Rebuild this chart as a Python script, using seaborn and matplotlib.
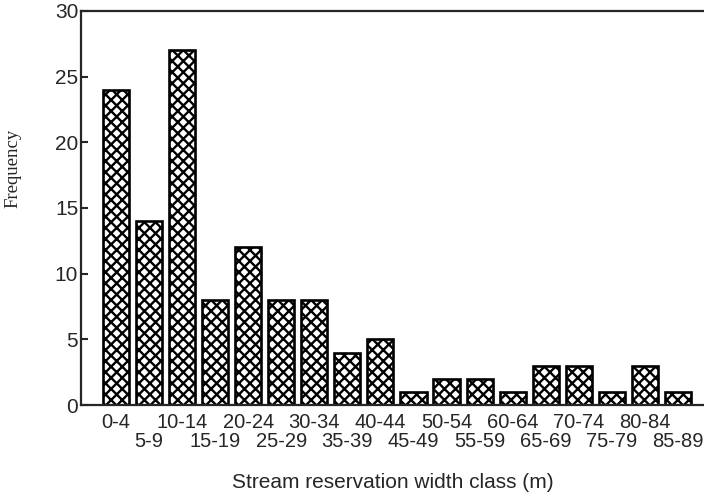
# histogram of stream reservation widths

import pandas as pd
import seaborn as sns
import matplotlib.pyplot as plt

classes = ['0-4', '5-9', '10-14', '15-19', '20-24', '25-29', '30-34', '35-39',
           '40-44', '45-49', '50-54', '55-59', '60-64', '65-69', '70-74',
           '75-79', '80-84', '85-89']
frequency = [24, 14, 27, 8, 12, 8, 8, 4, 5, 1, 2, 2, 1, 3, 3, 1, 3, 1]

df = pd.DataFrame({'cls': classes, 'freq': frequency})

sns.set_style('ticks')
plt.rcParams['font.family'] = ['Liberation Sans', 'DejaVu Sans']
plt.rcParams['hatch.linewidth'] = 1.7

fig = plt.figure(figsize=(7.04, 4.97), dpi=100)
ax = fig.add_axes([0.115, 0.185, 0.885, 0.793])

sns.barplot(data=df, x='cls', y='freq', color='white', edgecolor='black',
            linewidth=1.9, width=0.79, saturation=1, ax=ax)
for p in ax.patches:
    p.set_hatch('xxx')

# labels alternate between two rows: even classes on major ticks, odd on minor
pos = list(range(len(classes)))
ax.set_xticks(pos[0::2])
ax.set_xticklabels(classes[0::2], fontsize=14.5)
ax.set_xticks(pos[1::2], minor=True)
ax.set_xticklabels(classes[1::2], minor=True, fontsize=14.5)
ax.tick_params(axis='x', which='major', length=0, pad=5.5)
ax.tick_params(axis='x', which='minor', length=0, pad=19.5)
ax.set_xlim(-1.06, 17.79)

ax.set_ylim(0, 30)
ax.set_yticks([0, 5, 10, 15, 20, 25, 30])
ax.tick_params(axis='y', direction='in', length=5, width=1.5, pad=2, labelsize=15)

for s in ['left', 'bottom', 'top']:
    ax.spines[s].set_linewidth(1.6)
ax.spines['right'].set_visible(False)

ax.set_xlabel('Stream reservation width class (m)', fontsize=15, labelpad=16)
ax.set_ylabel('Frequency', fontsize=13.5, family=['Liberation Serif', 'DejaVu Serif'])
ax.yaxis.set_label_coords(-0.095, 0.6)

fig.savefig('out.png', dpi=100)
